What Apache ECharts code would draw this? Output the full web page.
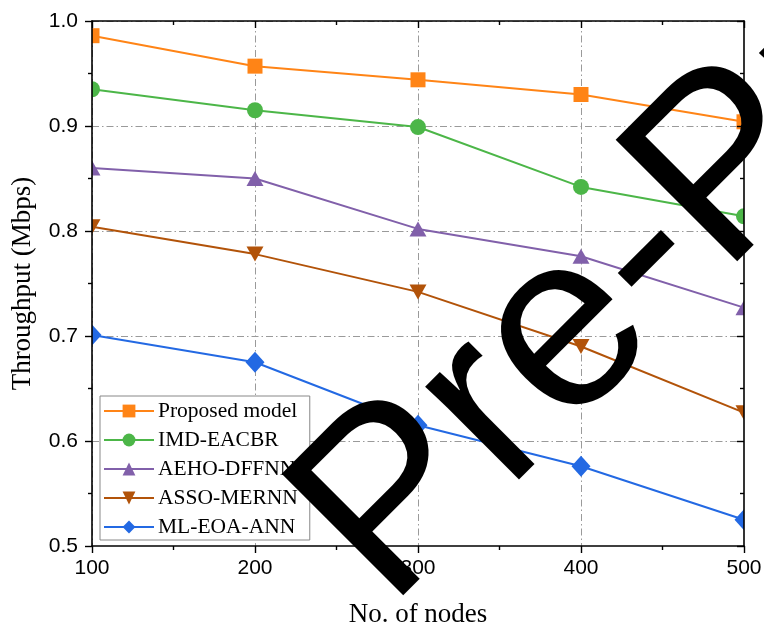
<!DOCTYPE html>
<html>
<head>
<meta charset="utf-8">
<script src="https://cdn.jsdelivr.net/npm/echarts@6/dist/echarts.min.js"></script>
<style>html,body{margin:0;padding:0;background:#fff}#c{width:764px;height:630px}</style>
</head>
<body>
<div id="c"></div>
<script>
const nodes = [100, 200, 300, 400, 500];
const seriesNames = ['Proposed model', 'IMD-EACBR', 'AEHO-DFFNN', 'ASSO-MERNN', 'ML-EOA-ANN'];
const proposed = [0.986, 0.957, 0.944, 0.930, 0.904];
const imdEacbr = [0.935, 0.915, 0.899, 0.842, 0.814];
const aehoDffnn = [0.860, 0.850, 0.802, 0.776, 0.727];
const assoMernn = [0.804, 0.778, 0.742, 0.690, 0.627];
const mlEoaAnn = [0.701, 0.675, 0.615, 0.576, 0.525];
const xTicks = [100, 200, 300, 400, 500];
const yTicks = ['0.5', '0.6', '0.7', '0.8', '0.9', '1.0'];
const watermark = 'Pre-Proof';

const colors = ['#FF8416', '#4CB648', '#8160AA', '#B25309', '#2369E3'];
const symbols = ['rect', 'circle', 'triangle', 'path://M0,0L20,0L10,17.3Z', 'diamond'];
const sizes = [15, 16, [17, 15], [17, 15], [19, 21]];
const values = [proposed, imdEacbr, aehoDffnn, assoMernn, mlEoaAnn];

const G = {left: 92, right: 744, top: 21, bottom: 546};
const tickFont = {fontFamily: 'Liberation Sans', fontSize: 21, color: '#000'};
const titleFont = {fontFamily: 'Liberation Serif', fontSize: 27, color: '#000'};
const dashDot = [7, 3, 1.5, 3];

const series = values.map((v, i) => ({
  name: seriesNames[i],
  type: 'line',
  xAxisIndex: 0, yAxisIndex: 0,
  data: nodes.map((x, j) => [x, v[j]]),
  symbol: symbols[i],
  symbolSize: sizes[i],
  showAllSymbol: true,
  clip: false,
  z: 2,
  lineStyle: {color: colors[i], width: 2},
  itemStyle: {color: colors[i]},
  emphasis: {disabled: true},
  animation: false
}));

function xAx(extra) {
  return Object.assign({
    type: 'value', min: 100, max: 500, interval: 100,
    axisLine: {show: false}, axisTick: {show: false}, axisLabel: {show: false},
    splitLine: {show: false}, minorTick: {show: false}
  }, extra);
}
function yAx(extra) {
  return Object.assign({
    type: 'value', min: 0.5, max: 1.0, interval: 0.1,
    axisLine: {show: false}, axisTick: {show: false}, axisLabel: {show: false},
    splitLine: {show: false}, minorTick: {show: false}
  }, extra);
}

const option = {
  animation: false,
  backgroundColor: '#fff',
  grid: {left: G.left, right: 764 - G.right, top: G.top, bottom: 630 - G.bottom, containLabel: false, outerBoundsMode: 'none'},
  xAxis: [
    xAx({position: 'bottom', z: 0, splitLine: {show: true, lineStyle: {color: '#9a9a9a', width: 1, type: dashDot}}}),
    xAx({position: 'bottom', z: 10,
      axisLine: {show: true, onZero: false, lineStyle: {color: '#000', width: 1.6}},
      axisTick: {show: true, inside: false, length: 7, lineStyle: {color: '#000', width: 1.4}},
      minorTick: {show: true, splitNumber: 2, length: 4, lineStyle: {color: '#000', width: 1.4}},
      axisLabel: Object.assign({show: true, margin: 12, formatter: v => String(v)}, tickFont),
      name: 'No. of nodes', nameLocation: 'middle', nameGap: 55, nameTextStyle: titleFont}),
    xAx({position: 'top', z: 10,
      axisLine: {show: true, onZero: false, lineStyle: {color: '#000', width: 1.6}},
      axisTick: {show: true, inside: true, length: 7, lineStyle: {color: '#000', width: 1.4}},
      minorTick: {show: true, splitNumber: 2, length: 4, lineStyle: {color: '#000', width: 1.4}}})
  ],
  yAxis: [
    yAx({position: 'left', z: 0, splitLine: {show: true, lineStyle: {color: '#9a9a9a', width: 1, type: dashDot}}}),
    yAx({position: 'left', z: 10,
      axisLine: {show: true, onZero: false, lineStyle: {color: '#000', width: 1.6}},
      axisTick: {show: true, inside: false, length: 7, lineStyle: {color: '#000', width: 1.4}},
      minorTick: {show: true, splitNumber: 2, length: 4, lineStyle: {color: '#000', width: 1.4}},
      axisLabel: Object.assign({show: true, margin: 14, formatter: v => yTicks[Math.round((v - 0.5) * 10)]}, tickFont),
      name: 'Throughput (Mbps)', nameLocation: 'middle', nameGap: 56, nameTextStyle: titleFont}),
    yAx({position: 'right', z: 10,
      axisLine: {show: true, onZero: false, lineStyle: {color: '#000', width: 1.6}},
      axisTick: {show: true, inside: true, length: 7, lineStyle: {color: '#000', width: 1.4}},
      minorTick: {show: true, splitNumber: 2, length: 4, lineStyle: {color: '#000', width: 1.4}}})
  ],
  legend: {
    left: 100, top: 396, orient: 'vertical',
    data: seriesNames,
    itemWidth: 50, itemHeight: 16, itemGap: 7,
    padding: [4, 12, 2, 3],
    borderColor: '#888', borderWidth: 1, backgroundColor: '#fff',
    textStyle: {fontFamily: 'Liberation Serif', fontSize: 21.5, color: '#000', lineHeight: 21, padding: [0, 0, 0, -1]},
    z: 4
  },
  graphic: {elements: [
    {type: 'rect', z: 5, shape: {x: 0, y: 0, width: G.left, height: 630}, style: {fill: '#fff'}, silent: true},
    {type: 'rect', z: 5, shape: {x: G.right, y: 0, width: 764 - G.right, height: 630}, style: {fill: '#fff'}, silent: true},
    {type: 'rect', z: 5, shape: {x: 0, y: 0, width: 764, height: G.top}, style: {fill: '#fff'}, silent: true},
    {type: 'rect', z: 5, shape: {x: 0, y: G.bottom, width: 764, height: 630 - G.bottom}, style: {fill: '#fff'}, silent: true},
    {type: 'text', z: 100, x: 340, y: 561, rotation: Math.PI / 4, silent: true,
      style: {text: watermark, font: '250px "Liberation Sans"', fill: '#000', textAlign: 'left', textVerticalAlign: 'middle'}}
  ]},
  series: series
};
const chart = echarts.init(document.getElementById('c'), null, {renderer: 'canvas'});
chart.setOption(option);
</script>
</body>
</html>
